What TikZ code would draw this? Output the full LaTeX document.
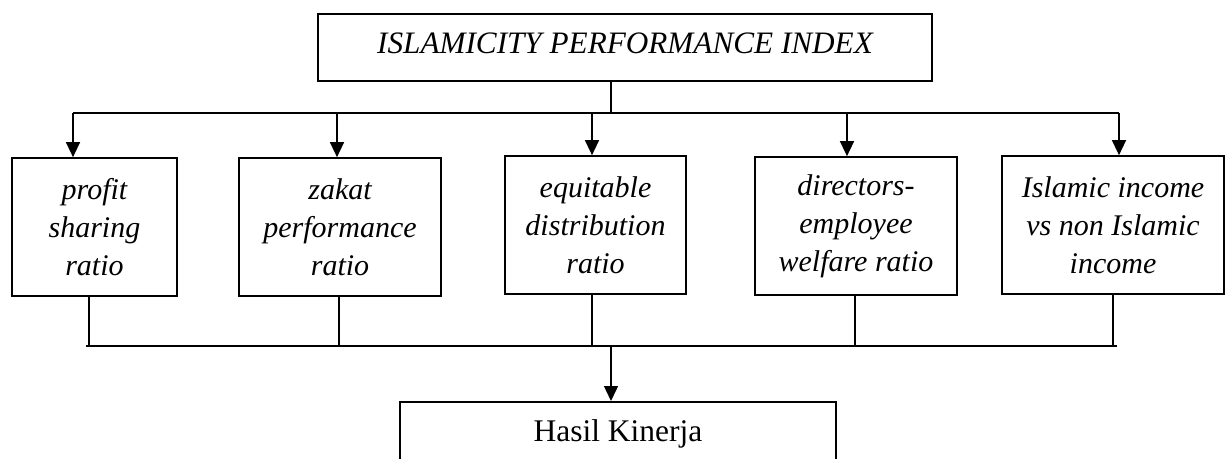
\documentclass[tikz,border=0pt]{standalone}
\usepackage{fontspec}
\setmainfont{Liberation Serif}
\usetikzlibrary{arrows.meta}
\begin{document}
\begin{tikzpicture}[x=1pt,y=-1pt,
  frame/.style={draw,line width=1.7pt,inner sep=0pt},
  box/.style={frame,align=center,minimum height=138pt,font=\fontsize{30}{38}\selectfont\itshape},
  ln/.style={line width=1.4pt},
  bus/.style={line width=2.2pt},
  arr/.style={ln,-{Triangle[length=15pt,width=14pt]}}]
\clip (0,0) rectangle (1225,458);
\fill[white] (0,0) rectangle (1225,458);
% title
\node[frame,anchor=north,minimum width=614pt,text height=40pt,text depth=27pt,
  font=\fontsize{31.2}{36}\selectfont\itshape] (ipi) at (625,13) {ISLAMICITY PERFORMANCE INDEX};
% five ratio boxes
\node[box,minimum width=165pt] (b1) at (94.5,227) {profit\\sharing\\ratio};
\node[box,minimum width=202pt] (b2) at (340,227) {zakat\\performance\\ratio};
\node[box,minimum width=181pt] (b3) at (595.5,225) {equitable\\distribution\\ratio};
\node[box,minimum width=202pt] (b4) at (856,226) {directors-\\employee\\welfare ratio};
\node[box,minimum width=222pt] (b5) at (1113,225) {Islamic income\\vs non Islamic\\income};
% result box
\node[frame,anchor=north,minimum width=436pt,text height=40pt,text depth=30pt,
  font=\fontsize{31.5}{38}\selectfont] (hasil) at (618,401) {Hasil Kinerja};
% top distribution
\coordinate (tj) at (611,113);
\coordinate (t1) at (73,113);
\coordinate (t2) at (337,113);
\coordinate (t3) at (592,113);
\coordinate (t4) at (847,113);
\coordinate (t5) at (1119,113);
\draw[ln] (ipi.south -| tj) -- (tj);
\draw[ln] (t1) -- (t5);
\foreach \i in {1,...,5} {\draw[arr] (t\i) -- (t\i |- b\i.north);}
% bottom collection
\coordinate (u1) at (89,346);
\coordinate (u2) at (339,346);
\coordinate (u3) at (592,346);
\coordinate (u4) at (855,346);
\coordinate (u5) at (1113,346);
\coordinate (uj) at (611,346);
\foreach \i in {1,...,5} {\draw[ln] (b\i.south -| u\i) -- (u\i);}
\draw[bus] ([xshift=-3pt]u1) -- ([xshift=4pt]u5);
\draw[arr] (uj) -- (uj |- hasil.north);
\end{tikzpicture}
\end{document}
